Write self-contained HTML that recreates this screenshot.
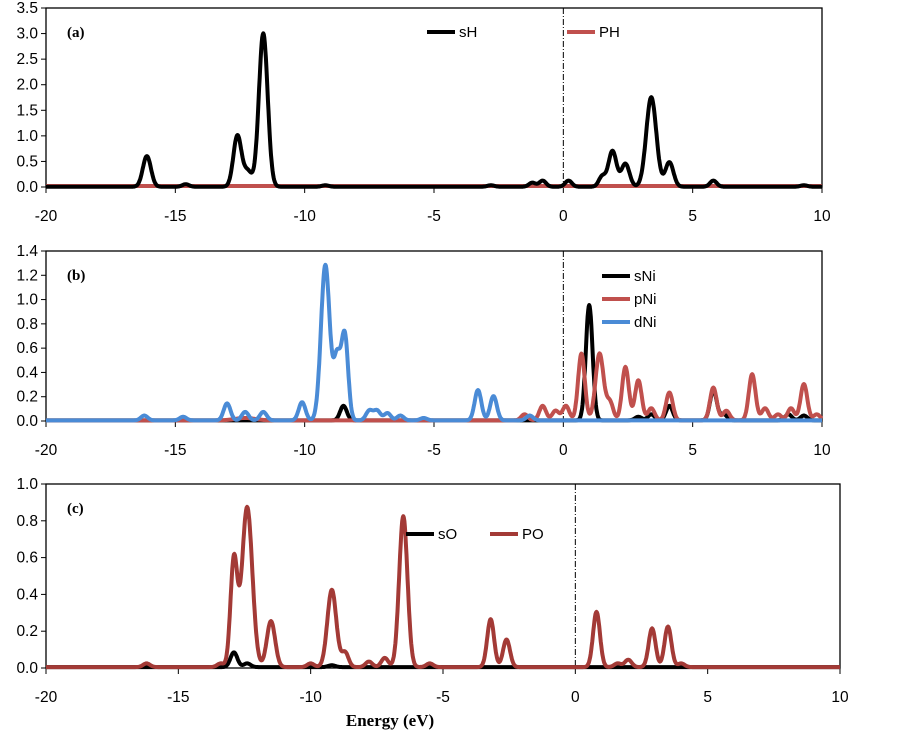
<!DOCTYPE html>
<html><head><meta charset="utf-8"><style>body{margin:0;background:#fff}svg{display:block}</style></head>
<body>
<svg id="s" width="903" height="733" xmlns="http://www.w3.org/2000/svg" font-family="Liberation Sans, sans-serif"></svg>
<script>
const S=document.getElementById('s');let h='';
function G(p,x){let y=0;for(const q of p){const w=(q[2]||0.1)*1.3;y+=q[1]*Math.exp(-((x-q[0])**2)/(2*w*w));}return y;}
function panel(o){
 const X=e=>o.x0+(e+20)*(o.x1-o.x0)/30, Y=v=>o.yb-(v/o.ym)*(o.yb-o.yt);
 h+=`<rect x="${o.x0}" y="${o.yt}" width="${o.x1-o.x0}" height="${o.yb-o.yt}" fill="none" stroke="#000" stroke-width="1.3"/>`;
 for(let v=0;v<=o.ym+1e-9;v+=o.st){h+=`<text x="38" y="${Y(v)+5}" font-size="15.5" text-anchor="end">${v.toFixed(1)}</text><line x1="${o.x0-5}" x2="${o.x0}" y1="${Y(v)}" y2="${Y(v)}" stroke="#000"/>`;}
 for(let e=-20;e<=10;e+=5){h+=`<line x1="${X(e)}" x2="${X(e)}" y1="${o.yb}" y2="${o.yb+6}" stroke="#000"/><text x="${X(e)}" y="${o.yb+34}" font-size="15.5" text-anchor="middle">${e}</text>`;}
 h+=`<line x1="${X(0)}" x2="${X(0)}" y1="${o.yt}" y2="${o.yb}" stroke="#000" stroke-dasharray="6,2,1,2"/>`;
 for(const s of o.series){let d='';for(let e=-20;e<=10.001;e+=0.02){d+=(d?'L':'M')+X(e).toFixed(1)+','+Y(Math.min(G(s.p,e)+(s.b||0.005),o.ym)).toFixed(1);}
  h+=`<path d="${d}" fill="none" stroke="${s.c}" stroke-width="4" stroke-linejoin="round"/>`;}
 h+=`<text x="67" y="${o.yt+29}" font-size="15" font-weight="bold" font-family="Liberation Serif, serif">${o.lab}</text>`;
 for(const l of o.leg){h+=`<line x1="${l[0]}" x2="${l[0]+28}" y1="${l[1]}" y2="${l[1]}" stroke="${l[3]}" stroke-width="4"/><text x="${l[0]+32}" y="${l[1]+5}" font-size="15">${l[2]}</text>`;}
}
const K='#000',R='#c0504d',B='#4a8bd6',DR='#a33a36';
panel({x0:46,x1:822,yt:8,yb:187,ym:3.5,st:0.5,lab:'(a)',
 series:[{c:R,p:[],b:0.02},{c:K,p:[[-16.1,0.6,0.12],[-14.6,0.05],[-12.6,1.0,0.12],[-12.2,0.3,0.12],[-11.6,3.0,0.13],[-9.2,0.03],[-2.8,0.03],[-1.2,0.08],[-0.8,0.12],[0.2,0.12],[1.5,0.2],[1.9,0.7,0.12],[2.4,0.45,0.12],[3.4,1.75,0.15],[4.1,0.48,0.12],[5.8,0.12],[9.3,0.03]]}],
 leg:[[427,32,'sH',K],[567,32,'PH',R]]});
panel({x0:46,x1:822,yt:251,yb:421,ym:1.4,st:0.2,lab:'(b)',
 series:[{c:K,p:[[-8.5,0.12],[1.0,0.95,0.1],[2.9,0.03],[3.4,0.05],[4.1,0.12],[5.8,0.25],[6.2,0.05],[8.7,0.05],[9.3,0.04]]},
 {c:R,p:[[-12.3,0.02,0.3],[-1.5,0.05],[-0.8,0.12],[-0.3,0.08],[0.1,0.12],[0.7,0.55,0.1],[1.4,0.55,0.12],[1.8,0.15],[2.4,0.44,0.1],[2.9,0.33,0.1],[3.4,0.1],[4.1,0.23],[5.8,0.27],[6.3,0.08],[7.3,0.38,0.1],[7.8,0.1],[8.3,0.05],[8.8,0.1],[9.3,0.3,0.1],[9.8,0.05]]},
 {c:B,p:[[-16.2,0.04],[-14.7,0.03],[-13,0.14],[-12.3,0.07],[-11.6,0.07],[-10.1,0.15],[-9.2,1.28,0.13],[-8.75,0.5,0.1],[-8.45,0.7,0.1],[-7.5,0.08],[-7.2,0.08],[-6.8,0.06],[-6.3,0.04],[-5.4,0.02],[-3.3,0.25],[-2.7,0.2],[-1.3,0.04]]}],
 leg:[[602,276,'sNi',K],[602,299,'pNi',R],[602,322,'dNi',B]]});
panel({x0:46,x1:840,yt:484,yb:668,ym:1.0,st:0.2,lab:'(c)',
 series:[{c:K,p:[[-12.9,0.08,0.1],[-12.4,0.02],[-9.2,0.01]]},
 {c:DR,p:[[-16.2,0.02],[-13.4,0.02],[-12.9,0.58,0.1],[-12.4,0.87,0.15],[-11.5,0.25,0.12],[-10,0.02],[-9.2,0.42,0.13],[-8.7,0.08],[-7.8,0.03],[-7.2,0.05],[-6.5,0.82,0.12],[-5.5,0.02],[-3.2,0.26,0.1],[-2.6,0.15,0.1],[0.8,0.3,0.1],[1.6,0.02],[2.0,0.04],[2.9,0.21,0.1],[3.5,0.22,0.1],[4.0,0.02]]}],
 leg:[[406,534,'sO',K],[490,534,'PO',DR]]});
h+=`<text x="390" y="726" font-size="17" font-weight="bold" text-anchor="middle" font-family="Liberation Serif, serif">Energy (eV)</text>`;
S.innerHTML=h;
</script>
</body></html>
